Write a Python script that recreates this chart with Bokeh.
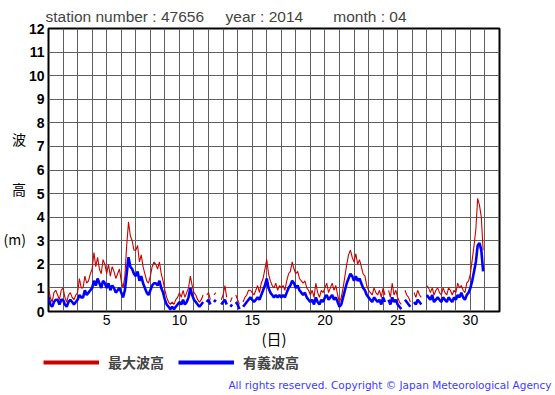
from bokeh.plotting import figure
from bokeh.layouts import column, row
from bokeh.models import FixedTicker, Legend, LegendItem, ColumnDataSource, Label
from bokeh.embed import file_html
from bokeh.resources import INLINE

nan = float("nan")

# 3-hourly values (00,03,...,21h) per day, April 2014, station 47656
sig_wave = [
    0.6,0.3,0.2,0.4,0.5,0.5,0.3,0.5,   # 1
    0.5,0.3,0.2,0.4,0.5,0.4,0.3,0.4,   # 2
    0.5,0.7,0.6,0.6,0.9,0.7,0.8,0.9,   # 3
    1.0,1.3,1.1,1.4,1.2,1.0,1.3,1.2,   # 4
    1.0,1.2,0.9,1.1,1.0,0.8,0.9,1.0,   # 5
    0.8,0.6,0.9,1.6,2.3,1.9,1.8,1.6,   # 6
    1.5,1.7,1.3,1.5,1.2,1.0,0.8,0.7,   # 7
    0.9,1.1,1.2,1.2,1.1,1.3,1.0,0.8,   # 8
    0.5,0.3,0.2,0.1,0.2,0.1,0.2,0.3,   # 9
    0.4,0.3,0.5,0.3,0.4,0.6,1.0,0.7,   # 10
    0.5,0.4,0.3,0.2,0.3,0.4,nan,0.4,   # 11
    0.5,0.3,nan,0.4,0.5,nan,nan,0.3,   # 12
    0.4,0.5,0.3,nan,0.2,0.3,nan,0.4,   # 13
    0.3,0.1,nan,0.2,0.3,0.4,0.5,0.6,   # 14
    0.5,0.4,0.5,0.6,0.5,0.7,0.9,1.1,   # 15
    1.4,1.0,0.8,0.7,0.6,0.7,0.6,0.7,   # 16
    0.6,0.7,0.6,0.8,1.0,1.1,1.3,1.2,   # 17
    1.0,1.1,0.9,0.8,0.7,0.8,0.6,0.5,   # 18
    0.4,0.5,0.3,0.6,0.4,0.3,0.5,0.4,   # 19
    0.6,0.7,0.5,0.6,0.7,0.5,0.6,0.4,   # 20
    0.2,0.3,0.6,0.9,1.2,1.4,1.6,1.5,   # 21
    1.3,1.5,1.3,1.4,1.2,1.0,0.9,0.7,   # 22
    0.6,0.5,0.4,0.6,0.5,0.4,0.5,0.3,   # 23
    0.6,0.4,nan,0.5,0.3,0.6,0.4,0.5,   # 24
    0.3,0.2,0.1,nan,0.5,0.4,0.3,0.2,   # 25
    nan,0.4,0.3,0.5,0.4,0.3,nan,nan,   # 26
    0.7,0.6,0.5,0.7,0.4,0.5,0.6,0.5,   # 27
    0.4,0.6,0.5,0.4,0.6,0.5,0.4,0.6,   # 28
    0.5,0.7,0.6,0.8,0.6,0.5,0.7,0.8,   # 29
    1.0,1.3,1.7,2.1,2.8,2.9,2.6,1.7,   # 30
]

max_wave = [
    1.0,0.6,0.4,0.8,0.9,0.7,0.5,0.9,   # 1
    1.0,0.6,0.4,0.7,0.8,0.6,0.5,0.7,   # 2
    0.8,1.4,1.0,1.0,1.5,1.2,1.3,1.6,   # 3
    1.8,2.5,1.9,2.3,1.8,1.6,2.2,2.0,   # 4
    1.6,2.0,1.5,1.9,1.7,1.4,1.6,1.8,   # 5
    1.3,1.0,1.5,2.8,3.8,3.2,3.0,2.6,   # 6
    2.6,2.8,2.1,2.4,1.9,1.6,1.3,1.2,   # 7
    1.5,1.9,2.1,2.0,1.8,2.1,1.6,1.3,   # 8
    0.9,0.6,0.4,0.3,0.4,0.3,0.5,0.6,   # 9
    0.8,0.6,0.9,0.6,0.8,1.0,1.5,1.1,   # 10
    0.8,0.7,0.5,0.4,0.5,0.7,nan,0.7,   # 11
    0.8,0.5,nan,0.7,0.8,nan,nan,0.5,   # 12
    0.7,1.1,0.6,nan,0.4,0.6,nan,0.7,   # 13
    0.5,0.3,nan,0.4,0.6,0.7,0.9,0.9,   # 14
    0.8,0.7,0.9,1.1,0.8,1.2,1.4,1.8,   # 15
    2.2,1.6,1.3,1.1,1.0,1.2,0.9,1.1,   # 16
    1.0,1.1,0.9,1.3,1.6,1.7,2.1,1.8,   # 17
    1.6,1.7,1.4,1.3,1.2,1.3,1.0,0.9,   # 18
    0.7,0.9,0.6,1.2,0.8,0.6,0.9,0.8,   # 19
    1.0,1.2,0.8,1.0,1.2,0.9,1.1,0.7,   # 20
    0.4,0.6,1.0,1.5,2.0,2.4,2.6,2.3,   # 21
    2.1,2.45,2.0,2.2,1.9,1.6,1.5,1.1,  # 22
    0.9,0.8,0.7,1.0,0.8,0.7,0.9,0.6,   # 23
    1.0,0.7,nan,0.9,0.6,1.2,0.7,0.9,   # 24
    0.6,0.4,0.3,nan,0.9,0.7,0.6,0.4,   # 25
    nan,0.8,0.6,0.9,0.7,0.6,nan,nan,   # 26
    1.1,1.0,0.8,1.0,0.7,0.9,1.0,0.8,   # 27
    0.7,1.0,0.8,0.7,1.0,0.9,0.7,0.9,   # 28
    0.8,1.2,1.0,1.1,0.9,0.8,1.2,1.3,   # 29
    1.6,2.2,2.8,3.5,4.8,4.5,4.0,2.6,   # 30
]

steps_per_day = 8
days = [1 + i / steps_per_day for i in range(len(sig_wave))]

x_ticks = [5, 10, 15, 20, 25, 30]
y_ticks = list(range(0, 13))
grid_days = list(range(1, 33))

NB = "\u00a0"
title_text = "station number : 47656" + NB * 5 + "year : 2014" + NB * 7 + "month : 04"
y_label = "\n\n\n波\n\n\n\n高\n\n\n\n(m)"
x_label = "(日)"
legend_labels = ["最大波高", "有義波高"]
copyright_text = "All rights reserved. Copyright \u00a9 Japan Meteorological Agency"

RED = "#cc0000"
BLUE = "#0000ff"

# ---------------- main chart ----------------
p = figure(width=555, height=352, x_range=(1, 32), y_range=(0, 12),
           output_backend="svg", toolbar_location=None)
p.min_border_left = 45
p.min_border_right = 56
p.min_border_top = 28
p.min_border_bottom = 41
p.background_fill_color = "white"
p.border_fill_color = "white"
p.outline_line_color = "black"
p.outline_line_width = 2

p.title.text = title_text
p.title.text_font = "Liberation Sans"
p.title.text_font_size = "15.5px"
p.title.text_font_style = "normal"
p.title.standoff = 7
p.title.offset = -3
p.title.align = "left"

p.xaxis.ticker = FixedTicker(ticks=x_ticks)
p.yaxis.ticker = FixedTicker(ticks=y_ticks)
p.xgrid.ticker = FixedTicker(ticks=grid_days)
p.ygrid.ticker = FixedTicker(ticks=y_ticks)
for g in (p.xgrid, p.ygrid):
    g.grid_line_color = "#5e5e5e"
    g.grid_line_width = 1
for ax in (p.xaxis, p.yaxis):
    ax.axis_line_color = None
    ax.major_tick_line_color = None
    ax.minor_tick_line_color = None
    ax.major_tick_out = 0
    ax.major_tick_in = 0
    ax.minor_tick_out = 0
    ax.minor_tick_in = 0
    ax.major_label_text_font = "Liberation Sans"
    ax.major_label_text_font_size = "14px"
    ax.major_label_text_color = "black"
    ax.axis_label_text_font = "Noto Sans CJK JP"
    ax.axis_label_text_font_style = "normal"
    ax.axis_label_text_color = "black"
p.yaxis.major_label_text_font_style = "bold"
p.xaxis.major_label_standoff = 3
p.yaxis.major_label_standoff = 4

p.xaxis.axis_label = x_label
p.xaxis.axis_label_text_font_size = "15px"
p.xaxis.axis_label_standoff = 0

p.yaxis.axis_label = y_label
p.yaxis.axis_label_text_font_size = "14px"
p.yaxis.axis_label_text_line_height = 0.625
p.yaxis.axis_label_standoff = 0
yax = p.yaxis[0]
if "axis_label_orientation" in yax.properties():
    yax.axis_label_orientation = "horizontal"

src = ColumnDataSource(dict(day=days, hmax=max_wave, hsig=sig_wave))
p.line("day", "hmax", source=src, line_color=RED, line_width=1.1)
p.line("day", "hsig", source=src, line_color=BLUE, line_width=2.6)

# ---------------- legend + copyright strip ----------------
# x_range is set away from the data so only the legend samples show
q = figure(width=555, height=43, x_range=(100, 101), y_range=(0, 1),
           x_axis_type=None, y_axis_type=None,
           output_backend="svg", toolbar_location=None)
q.min_border = 0
q.min_border_left = 0
q.min_border_right = 0
q.min_border_top = 0
q.min_border_bottom = 0
q.outline_line_color = None
q.title.visible = False
q.background_fill_color = "white"
q.border_fill_color = "white"

r_red = q.line("day", "hmax", source=src, line_color=RED, line_width=4)
r_blue = q.line("day", "hsig", source=src, line_color=BLUE, line_width=4)
legend = Legend(items=[LegendItem(label=legend_labels[0], renderers=[r_red]),
                       LegendItem(label=legend_labels[1], renderers=[r_blue])],
                orientation="horizontal", location=(43, 23),
                glyph_width=56, glyph_height=18, label_height=18,
                label_standoff=9, spacing=14, padding=0, margin=0,
                border_line_color=None, background_fill_alpha=0,
                label_text_font="Noto Sans CJK JP", label_text_font_style="bold",
                label_text_font_size="14px")
q.add_layout(legend)

q.add_layout(Label(text=copyright_text, x=551, y=11, x_units="screen", y_units="screen",
                   text_align="right", text_baseline="middle",
                   text_font="DejaVu Sans", text_font_size="10.5px",
                   text_color="#3c3cff"))

layout = column(p, row(q), spacing=0)
open("out.html", "w").write(file_html(layout, INLINE))
